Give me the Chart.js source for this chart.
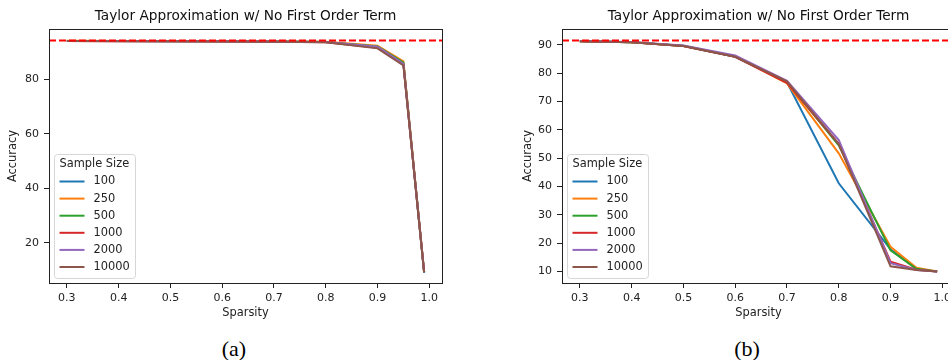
<!DOCTYPE html>
<html>
<head>
<meta charset="utf-8">
<script src="https://cdn.jsdelivr.net/npm/chart.js@4/dist/chart.umd.min.js"></script>
<style>
  html, body { margin: 0; padding: 0; width: 948px; height: 360px; overflow: hidden; background: #fff; }
  body { position: relative; }
  canvas { position: absolute; top: 0; }
  #chartA { left: 0; }
  #chartB { left: 514px; }
  .caption { position: absolute; top: 336px; width: 60px; line-height: 26px; text-align: center;
             font-family: "Liberation Serif", "Times New Roman", serif; font-size: 22px; color: #000; }
</style>
</head>
<body>
<canvas id="chartA" width="491" height="330"></canvas>
<canvas id="chartB" width="489" height="330"></canvas>
<div class="caption" style="left:204px">(a)</div>
<div class="caption" style="left:717px">(b)</div>
<script>
const titleText = 'Taylor Approximation w/ No First Order Term';
const legendTitle = 'Sample Size';
const sparsity = [0.3, 0.4, 0.5, 0.6, 0.7, 0.8, 0.9, 0.95, 0.99];
const sampleSizes = ['100', '250', '500', '1000', '2000', '10000'];
const colors = ['#1f77b4', '#ff7f0e', '#2ca02c', '#d62728', '#9467bd', '#8c564b'];
const xTicks = [0.3, 0.4, 0.5, 0.6, 0.7, 0.8, 0.9, 1.0];

// left panel
const accA = [
  [94.0, 94.0, 93.9, 93.9, 93.8, 93.6, 91.7, 85.6, 8.9],
  [94.1, 94.0, 94.0, 93.9, 93.8, 93.7, 92.3, 86.5, 9.2],
  [94.0, 94.0, 93.9, 93.9, 93.8, 93.6, 92.0, 86.1, 9.2],
  [94.0, 93.9, 93.9, 93.8, 93.7, 93.5, 91.5, 85.4, 9.2],
  [94.0, 94.0, 93.9, 93.9, 93.8, 93.6, 91.9, 85.6, 9.2],
  [94.0, 93.9, 93.9, 93.8, 93.7, 93.5, 91.3, 85.0, 9.2]
];
const baselineA = 94.2;
const yTicksA = [20, 40, 60, 80];

// right panel
const accB = [
  [91.3, 90.9, 89.6, 85.8, 76.8, 41.1, 17.8, 10.8, 10.0],
  [91.3, 90.9, 89.6, 85.9, 76.4, 51.7, 18.7, 11.3, 10.0],
  [91.3, 90.9, 89.7, 85.9, 76.9, 54.5, 17.4, 10.9, 10.0],
  [91.3, 90.9, 89.6, 85.8, 76.6, 55.0, 13.4, 10.6, 10.0],
  [91.4, 91.0, 89.8, 86.3, 77.3, 56.4, 12.9, 10.5, 10.0],
  [91.3, 90.9, 89.6, 85.8, 77.1, 55.0, 11.8, 10.5, 10.0]
];
const baselineB = 91.5;
const yTicksB = [10, 20, 30, 40, 50, 60, 70, 80, 90];

Chart.defaults.font.family = '"DejaVu Sans", sans-serif';
Chart.defaults.color = '#222';

// full box around the plot area, title centred over it
const frame = {
  id: 'frame',
  afterDraw(chart) {
    const a = chart.chartArea, ctx = chart.ctx;
    ctx.save();
    ctx.strokeStyle = '#222';
    ctx.lineWidth = 1;
    ctx.strokeRect(Math.round(a.left) + 0.5, Math.round(a.top) + 0.5,
                   Math.round(a.right - a.left), Math.round(a.bottom - a.top));
    ctx.font = '13.7px "DejaVu Sans"';
    ctx.fillStyle = '#111';
    ctx.textAlign = 'center';
    ctx.textBaseline = 'middle';
    ctx.fillText(titleText, (a.left + a.right) / 2, a.top - 12.3);
    ctx.restore();
  }
};

// red dashed reference accuracy across the whole plot
const baseline = {
  id: 'baseline',
  afterDatasetsDraw(chart, args, opts) {
    const a = chart.chartArea, ctx = chart.ctx;
    const y = chart.scales.y.getPixelForValue(opts.value);
    ctx.save();
    ctx.strokeStyle = '#ff0000';
    ctx.lineWidth = 2;
    ctx.setLineDash([7, 3]);
    ctx.beginPath();
    ctx.moveTo(a.left, y);
    ctx.lineTo(a.right, y);
    ctx.stroke();
    ctx.restore();
  }
};

// legend box in the lower left corner
const sampleLegend = {
  id: 'sampleLegend',
  afterDraw(chart) {
    const a = chart.chartArea, ctx = chart.ctx;
    const w = 81, h = 124;
    const x = a.left + 5.5, y = a.bottom - 4.5 - h;
    ctx.save();
    ctx.beginPath();
    ctx.roundRect(x, y, w, h, 3);
    ctx.fillStyle = 'rgba(255,255,255,0.8)';
    ctx.fill();
    ctx.strokeStyle = '#d6d6d6';
    ctx.lineWidth = 1;
    ctx.stroke();
    ctx.font = '11.4px "DejaVu Sans"';
    ctx.fillStyle = '#222';
    ctx.textBaseline = 'middle';
    ctx.textAlign = 'left';
    ctx.fillText(legendTitle, x + 5, y + 10);
    chart.data.datasets.forEach((ds, i) => {
      const ry = y + 27 + i * 17.1;
      ctx.strokeStyle = ds.borderColor;
      ctx.lineWidth = 2;
      ctx.beginPath();
      ctx.moveTo(x + 5, ry);
      ctx.lineTo(x + 30, ry);
      ctx.stroke();
      ctx.fillText(ds.label, x + 39, ry);
    });
    ctx.restore();
  }
};

function makeChart(id, acc, ref, yMin, yMax, yTicks, yWidth, yTitlePad, rightPad) {
  const datasets = acc.map((vals, i) => ({
    label: sampleSizes[i],
    data: vals.map((v, j) => ({ x: sparsity[j], y: v })),
    borderColor: colors[i],
    backgroundColor: colors[i],
    borderWidth: 2,
    pointRadius: 0,
    tension: 0,
    order: acc.length - i
  }));

  return new Chart(document.getElementById(id), {
    type: 'line',
    data: { datasets },
    plugins: [frame, baseline, sampleLegend],
    options: {
      responsive: false,
      animation: false,
      devicePixelRatio: 1,
      events: [],
      layout: { padding: { top: 29, left: 0, right: rightPad, bottom: 0 } },
      plugins: {
        legend: { display: false },
        tooltip: { enabled: false },
        title: { display: false },
        baseline: { value: ref }
      },
      scales: {
        x: {
          type: 'linear',
          min: 0.2655,
          max: 1.0245,
          afterFit: s => { s.height = 47; },
          afterBuildTicks: s => { s.ticks = xTicks.map(v => ({ value: v })); },
          ticks: { font: { size: 11 }, padding: 3.5, maxRotation: 0, callback: v => v.toFixed(1) },
          grid: { display: true, drawOnChartArea: false, drawTicks: true, tickLength: 5, color: '#222' },
          border: { display: false },
          title: { display: true, text: 'Sparsity', font: { size: 11.4 }, padding: { top: 0, bottom: 9.9 } }
        },
        y: {
          min: yMin,
          max: yMax,
          afterFit: s => { s.width = yWidth; },
          afterBuildTicks: s => { s.ticks = yTicks.map(v => ({ value: v })); },
          ticks: { font: { size: 11 }, padding: 5, callback: v => String(v) },
          grid: { display: true, drawOnChartArea: false, drawTicks: true, tickLength: 5, color: '#222' },
          border: { display: false },
          title: { display: true, text: 'Accuracy', font: { size: 11.4 }, padding: { top: yTitlePad, bottom: 0 } }
        }
      }
    }
  });
}

makeChart('chartA', accA, baselineA, 5.2, 98.4, yTicksA, 49, 6.5, 49);
makeChart('chartB', accB, baselineB, 5.9, 95.6, yTicksB, 48, 7.5, 48);
</script>
</body>
</html>
